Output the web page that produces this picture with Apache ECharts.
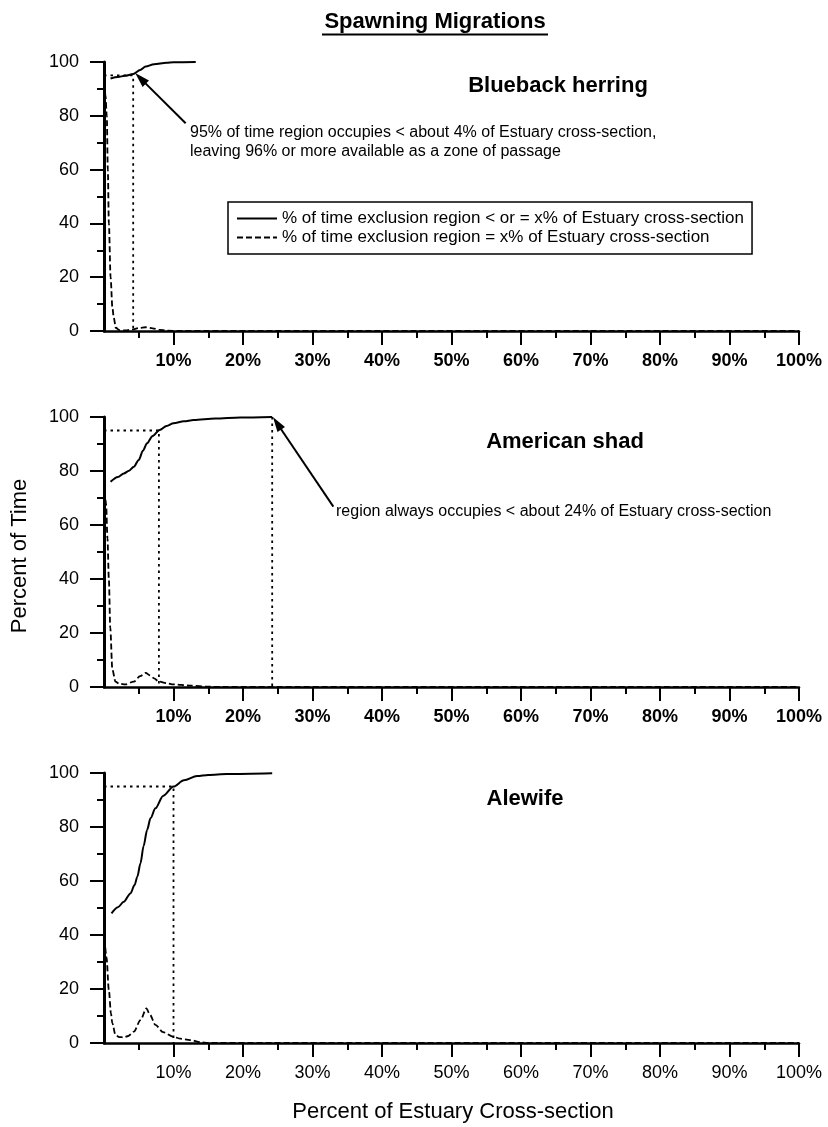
<!DOCTYPE html>
<html>
<head>
<meta charset="utf-8">
<script src="https://cdn.jsdelivr.net/npm/echarts@6/dist/echarts.min.js"></script>
<style>
  html, body { margin: 0; padding: 0; background: #fff; }
  #chart { width: 828px; height: 1127px; }
</style>
</head>
<body>
<div id="chart"></div>
<script>
// Tick values shared by the three panels
const X_TICKS = [10, 20, 30, 40, 50, 60, 70, 80, 90, 100];

// Legend / series names
const NAME_CUM = '% of time exclusion region < or = x% of Estuary cross-section';
const NAME_EQ = '% of time exclusion region = x% of Estuary cross-section';

// Species shown in each panel (top to bottom)
const SPECIES = ['Blueback herring', 'American shad', 'Alewife'];

// Blueback herring: [percent of cross-section, percent of time]
const bluebackCum = [[0.94, 93.9], [2, 94.4], [3, 94.9], [4.2, 95.5], [5.2, 97.0], [6, 98.3],
  [7.2, 99.2], [9, 99.7], [10, 99.9], [13.2, 100]];
const bluebackEq = [[0, 95], [0.2, 88], [0.4, 80], [0.55, 60], [0.7, 40], [0.95, 20], [1.2, 9],
  [1.4, 5], [1.7, 1.2], [2.2, 0.3], [3, 0.2], [4, 0.5], [5, 1.1], [6, 1.4], [7, 1.0], [8, 0.4],
  [9, 0.15], [11, 0], [100, 0]];
const bluebackGuides = [[[0, 95], [4.2, 95], [4.2, 0]]];
const bluebackArrow = [[11.75, 77.2], [5.25, 93.9]];

// American shad
const shadCum = [[0.94, 76], [2, 77.8], [2.85, 79.1], [3.6, 80.1], [4.3, 81.6], [5, 84.1], [5.6, 87.5],
  [6.2, 90.3], [7, 93], [8, 95.2], [9, 96.7], [10, 97.7], [11.5, 98.4], [12.9, 98.9], [16, 99.4],
  [19.6, 99.8], [24.2, 100]];
const shadEq = [[0, 76], [0.3, 68], [0.5, 55], [0.7, 40], [0.9, 22], [1.2, 6.5], [1.65, 2], [2.2, 1.2],
  [3.1, 1.0], [4.3, 2.0], [5.2, 4], [6, 5.2], [6.6, 4.3], [7.2, 3.2], [7.9, 2.0], [9, 1.4], [10, 1.0],
  [12.4, 0.5], [15, 0.1], [17, 0], [100, 0]];
const shadGuides = [[[0, 95], [7.9, 95], [7.9, 0]], [[24.2, 100], [24.2, 0]]];
const shadArrow = [[33.0, 66.8], [24.9, 97.7]];

// Alewife
const alewifeCum = [[1.08, 48], [2, 50.3], [2.85, 52.3], [3.8, 55.4], [4.4, 58.5], [4.8, 61.6],
  [5.25, 66.6], [5.7, 73], [6.2, 78.9], [6.7, 83.3], [7.4, 86.9], [8.5, 91.5], [10, 95], [11.5, 97.3],
  [13.4, 98.9], [15, 99.3], [17.7, 99.6], [24.2, 99.9]];
const alewifeEq = [[0, 42], [0.35, 32], [0.7, 19.6], [1.0, 11], [1.2, 7.3], [1.65, 3], [2.2, 2.2],
  [2.85, 2.1], [3.5, 2.6], [4.3, 4.2], [5.25, 8.5], [6.1, 12.8], [6.6, 10.5], [7.4, 6.7], [8.5, 4],
  [10, 2.3], [11, 1.6], [12.4, 1.1], [13.9, 0.3], [15, 0], [100, 0]];
const alewifeGuides = [[[0, 95], [10, 95], [10, 0]]];

const FONT = "'Liberation Sans', Arial, Helvetica, sans-serif";

const panels = [
  { cum: bluebackCum, eq: bluebackEq, guides: bluebackGuides, arrow: bluebackArrow, bold: true },
  { cum: shadCum, eq: shadEq, guides: shadGuides, arrow: shadArrow, bold: true },
  { cum: alewifeCum, eq: alewifeEq, guides: alewifeGuides, arrow: null, bold: false }
];

const gridTops = [62, 417, 773];
const gridHeights = [269, 270, 270];

const grid = [], xAxis = [], yAxis = [], series = [];

panels.forEach((p, i) => {
  grid.push({ left: 104, right: 29, top: gridTops[i], height: gridHeights[i] });
  xAxis.push({
    gridIndex: i, type: 'value', min: 0, max: 100, interval: 10,
    axisLine: { show: true, onZero: false, lineStyle: { color: '#000', width: 2.5 } },
    axisTick: { show: true, inside: false, length: 14, customValues: X_TICKS,
      lineStyle: { color: '#000', width: 2 } },
    minorTick: { show: true, splitNumber: 2, length: 7, lineStyle: { color: '#000', width: 2 } },
    axisLabel: { customValues: X_TICKS, formatter: v => v + '%', color: '#000', fontFamily: FONT,
      fontSize: 18, fontWeight: p.bold ? 'bold' : 'normal', margin: 21 },
    splitLine: { show: false }
  });
  yAxis.push({
    gridIndex: i, type: 'value', min: 0, max: 100, interval: 20,
    axisLine: { show: true, lineStyle: { color: '#000', width: 3 } },
    axisTick: { show: true, inside: false, length: 14, lineStyle: { color: '#000', width: 2 } },
    minorTick: { show: true, splitNumber: 2, length: 7, lineStyle: { color: '#000', width: 2 } },
    axisLabel: { color: '#000', fontFamily: FONT, fontSize: 18, margin: 25 },
    splitLine: { show: false }
  });

  // dotted read-off guides
  p.guides.forEach(g => {
    series.push({
      type: 'line', xAxisIndex: i, yAxisIndex: i, data: g, symbol: 'none', silent: true,
      lineStyle: { color: '#000', width: 1.8, type: [2.5, 4] }, z: 1
    });
  });

  // frequency curve (dashed)
  series.push({
    name: NAME_EQ, type: 'line', xAxisIndex: i, yAxisIndex: i, data: p.eq, symbol: 'none',
    smooth: 0.3, smoothMonotone: 'x',
    lineStyle: { color: '#000', width: 1.8, type: [6, 3] }, itemStyle: { color: '#000' }, z: 3
  });

  // cumulative curve (solid), with the pointer arrow where present
  const s = {
    name: NAME_CUM, type: 'line', xAxisIndex: i, yAxisIndex: i, data: p.cum, symbol: 'none',
    smooth: 0.3, smoothMonotone: 'x',
    lineStyle: { color: '#000', width: 2 }, itemStyle: { color: '#000' }, z: 4
  };
  if (p.arrow) {
    s.markLine = {
      silent: true, animation: false,
      symbol: ['none', 'triangle'], symbolSize: [9, 15],
      label: { show: false },
      lineStyle: { color: '#000', width: 2, type: 'solid' },
      data: [[{ coord: p.arrow[0] }, { coord: p.arrow[1] }]]
    };
  }
  series.push(s);
});

const txt = (x, y, text, size, weight, align, extra) => Object.assign({
  type: 'text', x: x, y: y, silent: true,
  style: { text: text, font: (weight || 'normal') + ' ' + size + 'px ' + FONT, fill: '#000',
    textAlign: align || 'left', textVerticalAlign: 'middle' }
}, extra || {});

const graphic = [
  txt(435, 22, 'Spawning Migrations', 22, 'bold', 'center'),
  { type: 'line', silent: true, shape: { x1: 322, y1: 34.5, x2: 548, y2: 34.5 },
    style: { stroke: '#000', lineWidth: 2 } },
  txt(558, 86, SPECIES[0], 22, 'bold', 'center'),
  txt(565, 442, SPECIES[1], 22, 'bold', 'center'),
  txt(525, 799, SPECIES[2], 22, 'bold', 'center'),
  txt(190, 133, '95% of time region occupies < about 4% of Estuary cross-section,', 16),
  txt(190, 152, 'leaving 96% or more available as a zone of passage', 16),
  txt(336, 512, 'region always occupies < about 24% of Estuary cross-section', 16),
  txt(20, 556, 'Percent of Time', 22, 'normal', 'center', { rotation: Math.PI / 2 }),
  txt(453, 1112, 'Percent of Estuary Cross-section', 22, 'normal', 'center')
];

const chart = echarts.init(document.getElementById('chart'), null, { renderer: 'canvas' });
chart.setOption({
  animation: false,
  backgroundColor: '#fff',
  textStyle: { fontFamily: FONT, color: '#000' },
  grid: grid, xAxis: xAxis, yAxis: yAxis, series: series,
  legend: {
    data: [NAME_CUM, NAME_EQ], orient: 'vertical', left: 228, top: 202,
    backgroundColor: '#fff', borderColor: '#000', borderWidth: 1.5, borderRadius: 0,
    padding: [8, 8, 8, 8], itemGap: 2, itemWidth: 40, itemHeight: 14,
    selectedMode: false,
    itemStyle: { color: 'rgba(0,0,0,0)', borderColor: 'rgba(0,0,0,0)', borderWidth: 0 },
    textStyle: { fontFamily: FONT, fontSize: 17, color: '#000', padding: [0, 0, 0, 0] }
  },
  graphic: graphic
});
</script>
</body>
</html>
